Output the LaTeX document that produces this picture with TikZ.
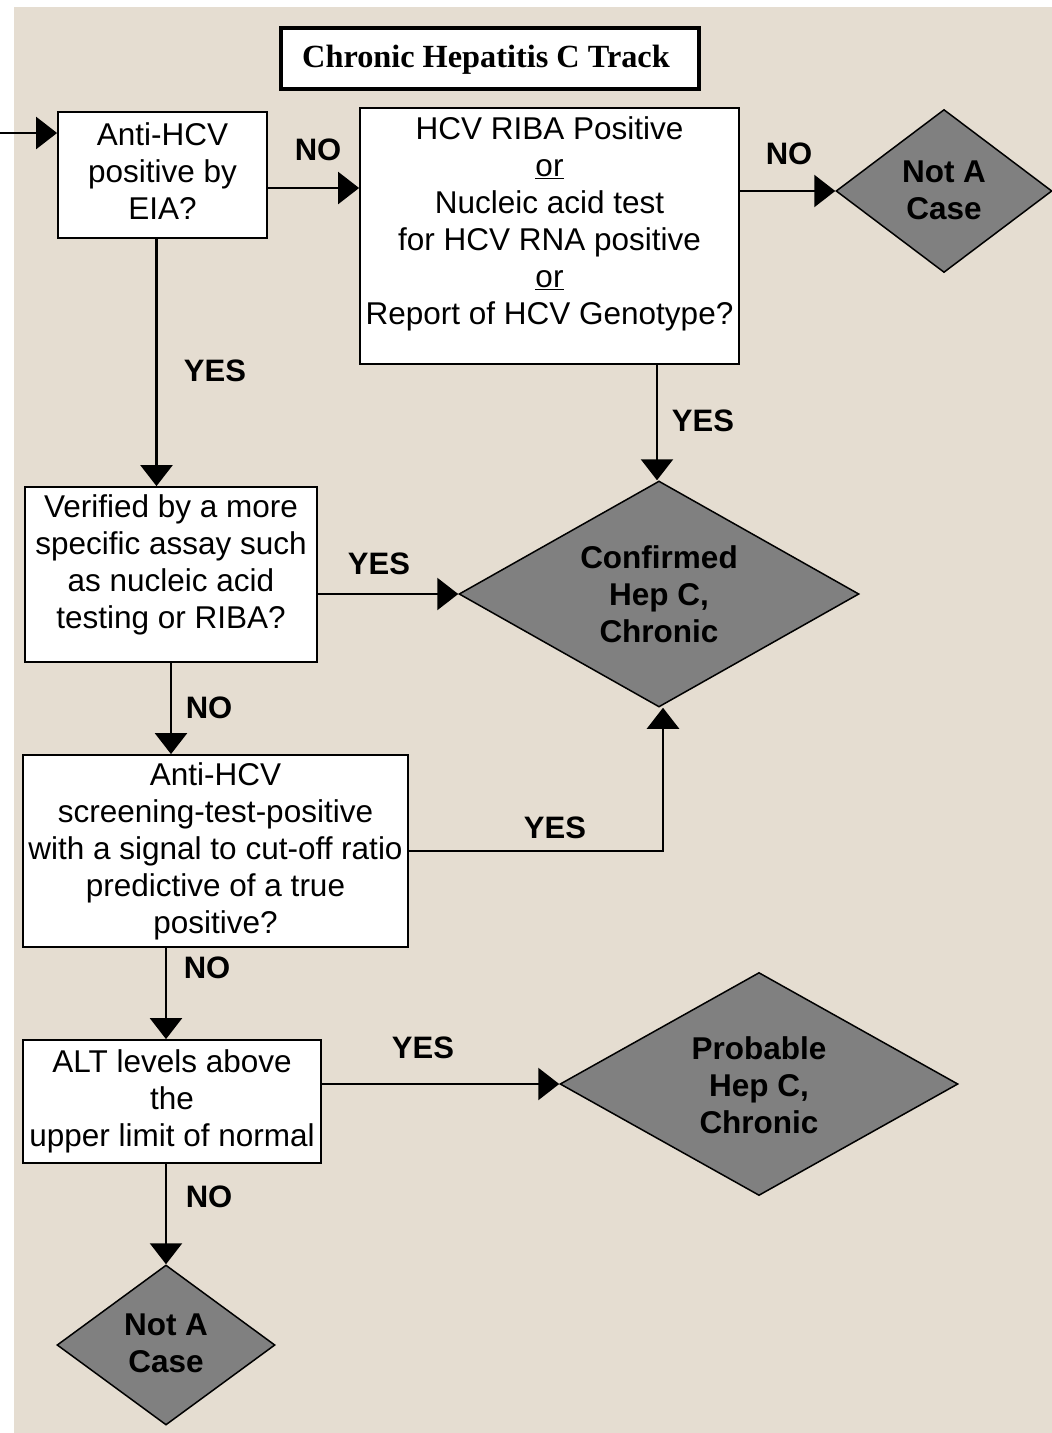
\documentclass[tikz,border=0pt]{standalone}
\usepackage{fontspec}
\setmainfont{Liberation Sans}
\newfontfamily\titlefont{Liberation Serif}
\usetikzlibrary{shapes.geometric,arrows.meta,calc}
\definecolor{bgbeige}{RGB}{229,221,209}
\definecolor{dgray}{RGB}{128,128,128}
\tikzset{
  box/.style={draw=black,line width=1.8pt,fill=white,inner sep=0pt},
  boxtext/.style={align=center,inner sep=0pt,font=\fontsize{31.5}{37}\selectfont},
  dia/.style={diamond,draw=black,line width=1.5pt,fill=dgray,inner sep=0pt},
  diatext/.style={align=center,inner sep=0pt,font=\fontsize{31.5}{37}\selectfont\bfseries},
  lbl/.style={inner sep=0pt,font=\fontsize{31}{37}\selectfont\bfseries},
  conn/.style={line width=2.4pt,-{Triangle[width=32pt,length=21pt]}},
}
\begin{document}
\begin{tikzpicture}[x=1pt,y=-1pt]
\useasboundingbox (0,0) rectangle (1052,1433);
\fill[white] (0,0) rectangle (1052,1433);
\fill[bgbeige] (14,7) rectangle (1052,1433);

% title
\node[draw=black,line width=4pt,fill=white,minimum width=418pt,minimum height=61pt,inner sep=0pt] (title) at (490,58) {};
\node[inner sep=0pt,font=\titlefont\fontsize{32.3}{37}\selectfont\bfseries] (titlet) at (486,60) {Chronic Hepatitis C Track};

% boxes
\node[box,minimum width=209pt,minimum height=126pt] (A) at (162.5,175) {};
\node[boxtext] (At) at (162.5,171) {Anti-HCV\\positive by\\EIA?};

\node[box,minimum width=379pt,minimum height=256pt] (B) at (549.5,236) {};
\node[boxtext] (Bt) at (549.5,224) {HCV RIBA Positive\\\underline{or}\\Nucleic acid test\\for HCV RNA positive\\\underline{or}\\Report of HCV Genotype?};

\node[box,minimum width=292pt,minimum height=175pt] (C) at (171,574.5) {};
\node[boxtext] (Ct) at (171,565) {Verified by a more\\specific assay such\\as nucleic acid\\testing or RIBA?};

\node[box,minimum width=385pt,minimum height=192pt] (D) at (215.5,851) {};
\node[boxtext] (Dt) at (215.5,851) {Anti-HCV\\screening-test-positive\\with a signal to cut-off ratio\\predictive of a true\\positive?};

\node[box,minimum width=298pt,minimum height=123pt] (E) at (172,1101.5) {};
\node[boxtext] (Et) at (172,1101) {ALT levels above\\the\\upper limit of normal};

% diamonds
\node[dia,minimum width=216pt,minimum height=163pt] (N1) at (944,191) {};
\node[diatext] (N1t) at (944,190) {Not A\\Case};
\node[dia,minimum width=400pt,minimum height=226pt] (CF) at (659,594) {};
\node[diatext] (CFt) at (659,594) {Confirmed\\Hep C,\\Chronic};
\node[dia,minimum width=398pt,minimum height=223pt] (PR) at (759,1084) {};
\node[diatext] (PRt) at (759,1085) {Probable\\Hep C,\\Chronic};
\node[dia,minimum width=218pt,minimum height=160pt] (N2) at (166,1345) {};
\node[diatext] (N2t) at (166,1343) {Not A\\Case};

% connectors
\coordinate (start) at (0,133);
\draw[conn] (start) -- (start -| A.west);
\draw[conn] ([yshift=-13pt]A.east) -- ([yshift=-13pt]A.east -| B.west);
\draw[conn] (N1.west -| B.east) -- (N1.west);
\draw[conn] ([xshift=-2pt]CF.north |- B.south) -- ([xshift=-2pt]CF.north);
\draw[conn] ([xshift=-6pt]A.south) -- ([xshift=-6pt]A.south |- C.north);
\draw[conn] (CF.west -| C.east) -- (CF.west);
\draw[conn] (C.south) -- (C.south |- D.north);
\draw[conn] (D.east) -| ([xshift=4pt]CF.south);
\draw[conn] (N2.north |- D.south) -- (N2.north |- E.north);
\draw[conn] (PR.west -| E.east) -- (PR.west);
\draw[conn] (N2.north |- E.south) -- (N2.north);

% labels
\node[lbl] (l1) at (318,150) {NO};
\node[lbl] (l2) at (789,154) {NO};
\node[lbl] (l3) at (703,421) {YES};
\node[lbl] (l4) at (215,371) {YES};
\node[lbl] (l5) at (379,564) {YES};
\node[lbl] (l6) at (209,708) {NO};
\node[lbl] (l7) at (555,828) {YES};
\node[lbl] (l8) at (207,968) {NO};
\node[lbl] (l9) at (423,1048) {YES};
\node[lbl] (l10) at (209,1197) {NO};
\end{tikzpicture}
\end{document}
